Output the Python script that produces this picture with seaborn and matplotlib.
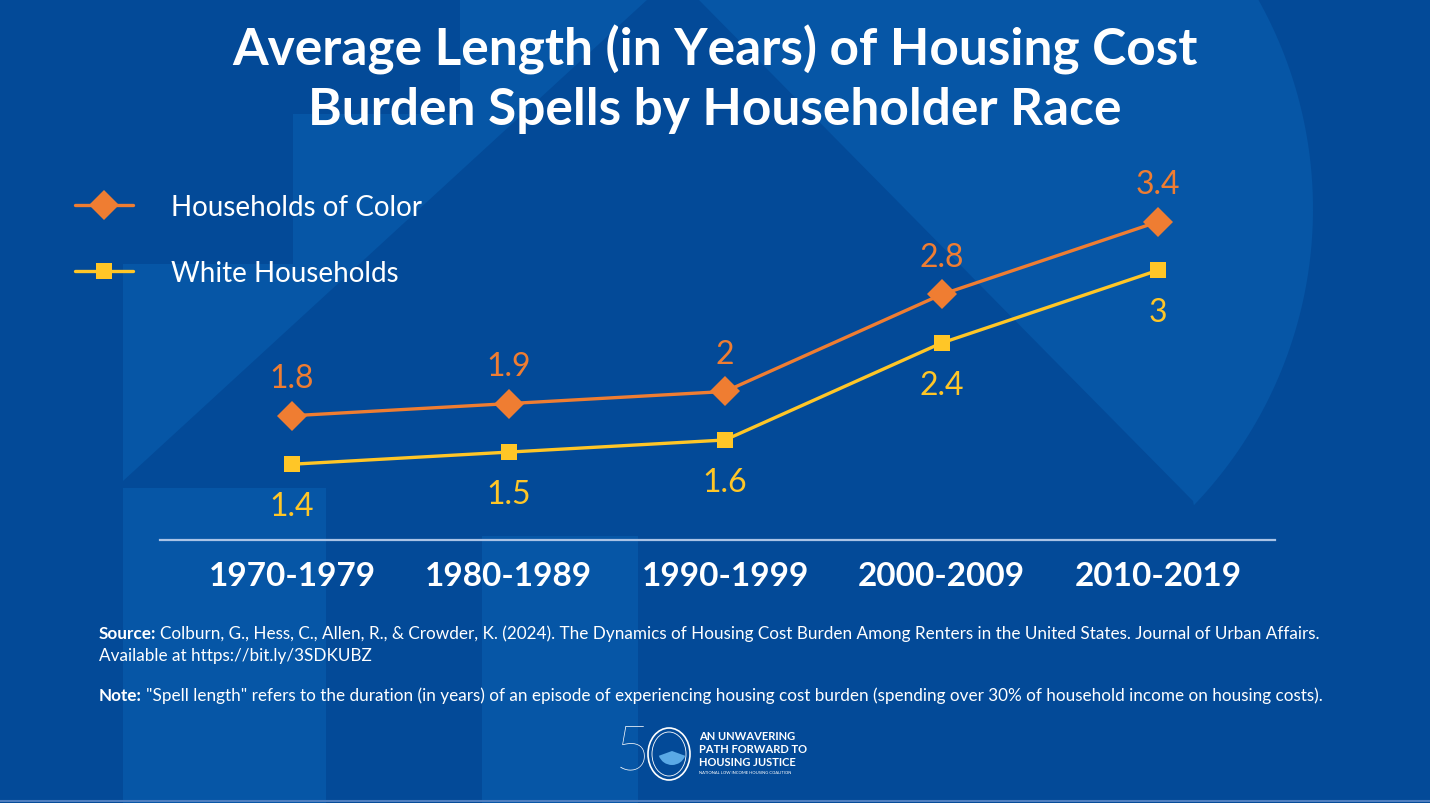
import matplotlib
matplotlib.use("Agg")
import matplotlib.pyplot as plt
import matplotlib.patches as mpatches
import seaborn as sns
import numpy as np
import pandas as pd

decades = ["1970-1979", "1980-1989", "1990-1999", "2000-2009", "2010-2019"]
color_hh = [1.8, 1.9, 2.0, 2.8, 3.4]
white_hh = [1.4, 1.5, 1.6, 2.4, 3.0]
series_names = ["Households of Color", "White Households"]

title_lines = ["Average Length (in Years) of Housing Cost", "Burden Spells by Householder Race"]
source_txt = ("Colburn, G., Hess, C., Allen, R., & Crowder, K. (2024). The Dynamics of Housing Cost "
              "Burden Among Renters in the United States. Journal of Urban Affairs.")
source_txt2 = "Available at https://bit.ly/3SDKUBZ"
note_txt = ("\"Spell length\" refers to the duration (in years) of an episode of experiencing housing "
            "cost burden (spending over 30% of household income on housing costs).")

BG = "#034a98"
BG_LIGHT = "#0656a6"
ORANGE = "#ef7d32"
YELLOW = "#ffc627"
W, H = 1430, 804

df = pd.DataFrame({
    "decade": decades * 2,
    "value": color_hh + white_hh,
    "series": [series_names[0]] * 5 + [series_names[1]] * 5,
})

sns.set_theme(style="white")
plt.rcParams["font.family"] = ["Lato", "DejaVu Sans"]

fig = plt.figure(figsize=(W / 100, H / 100), dpi=100)
fig.patch.set_facecolor(BG)

# background decoration, pixel coordinates
bg = fig.add_axes([0, 0, 1, 1], zorder=0)
bg.set_xlim(0, W)
bg.set_ylim(H, 0)
bg.axis("off")
bg.set_facecolor(BG)
left_shape = [(123, 482), (123, 265), (293, 265), (293, 115), (460, 115), (460, 0), (648, 0)]
bg.add_patch(mpatches.Polygon(left_shape, closed=True, color=BG_LIGHT, lw=0))
bg.add_patch(mpatches.Rectangle((123, 489), 203, 320, color=BG_LIGHT, lw=0))
bg.add_patch(mpatches.Rectangle((482, 537), 156, 270, color=BG_LIGHT, lw=0))
cx, cy, r = 885, 210, 428
ang = np.linspace(np.arctan2(-210, 373), np.deg2rad(43.8), 80)
arc = list(zip(cx + r * np.cos(ang), cy + r * np.sin(ang)))
right_shape = [(698, 0)] + arc + [(1193, 502)]
bg.add_patch(mpatches.Polygon(right_shape, closed=True, color=BG_LIGHT, lw=0))
bg.axhline(802, color="#4f7fc0", lw=1.5)

# main chart
ax = fig.add_axes([160 / W, 1 - 541 / H, (1275 - 160) / W, (541 - 150) / H], zorder=2)
ax.patch.set_alpha(0)

sns.lineplot(data=df[df.series == series_names[0]], x="decade", y="value", ax=ax,
             color=ORANGE, marker="D", markersize=15, lw=2.4, markeredgewidth=0,
             label=series_names[0])
sns.lineplot(data=df[df.series == series_names[1]], x="decade", y="value", ax=ax,
             color=YELLOW, marker="s", markersize=12, lw=2.4, markeredgewidth=0,
             label=series_names[1])

ax.set_xlim(-0.61, 4.54)
ax.set_ylim(0.775, 4.0)

for i, v in enumerate(color_hh):
    ax.annotate(f"{v:g}", (i, v), xytext=(0, 27), textcoords="offset points",
                ha="center", va="center", color=ORANGE, fontsize=23)
for i, v in enumerate(white_hh):
    ax.annotate(f"{v:g}", (i, v), xytext=(0, -30), textcoords="offset points",
                ha="center", va="center", color=YELLOW, fontsize=23)

for s in ["top", "right", "left"]:
    ax.spines[s].set_visible(False)
ax.spines["bottom"].set_color("#a9c3e6")
ax.spines["bottom"].set_linewidth(1.6)
ax.set_yticks([])
ax.set_xlabel("")
ax.set_ylabel("")
ax.tick_params(axis="x", length=0, pad=15, labelsize=24, labelcolor="white")
for lab in ax.get_xticklabels():
    lab.set_fontweight("bold")

leg = ax.legend(loc="center left", bbox_to_anchor=(50 / W, 1 - 241 / H),
                bbox_transform=fig.transFigure, frameon=False, fontsize=20,
                handlelength=2.1, handletextpad=1.35, labelspacing=1.45)
for t in leg.get_texts():
    t.set_color("white")

for yy, line in zip([50, 110], title_lines):
    fig.text(0.5, 1 - yy / H, line, ha="center", va="center", color="white",
             fontsize=37, fontweight="bold")

# source and note
renderer = fig.canvas.get_renderer()


def bold_lead(x, y, lead, rest, size=12.3):
    t = fig.text(x / W, 1 - y / H, lead, color="white", fontsize=size,
                 fontweight="bold", va="center")
    bb = t.get_window_extent(renderer=renderer)
    fig.text(bb.x1 / W + 4 / W, 1 - y / H, rest, color="white", fontsize=size, va="center")


bold_lead(99, 634, "Source:", source_txt)
fig.text(99 / W, 1 - 656 / H, source_txt2, color="white", fontsize=12.3, va="center")
bold_lead(99, 696, "Note:", note_txt)

# logo
fig.text(615 / W, 1 - 753 / H, "5", color="white", fontsize=44, fontweight="light",
         va="center", ha="left")
bg.add_patch(mpatches.Ellipse((669, 755), 42, 52, fill=False, ec="white", lw=1.2))
bg.add_patch(mpatches.Ellipse((669, 755), 34, 44, fill=False, ec="white", lw=0.6))
bg.add_patch(mpatches.Wedge((672, 752), 14, 20, 160, color="#5aa9e6", lw=0))
for yy, line in [(737, "AN UNWAVERING"), (750, "PATH FORWARD TO"), (763, "HOUSING JUSTICE")]:
    fig.text(699 / W, 1 - yy / H, line, color="white", fontsize=8, fontweight="bold",
             va="center")
fig.text(699 / W, 1 - 773 / H, "NATIONAL LOW INCOME HOUSING COALITION", color="white",
         fontsize=3, va="center")

plt.savefig("out.png", dpi=100, facecolor=BG)
